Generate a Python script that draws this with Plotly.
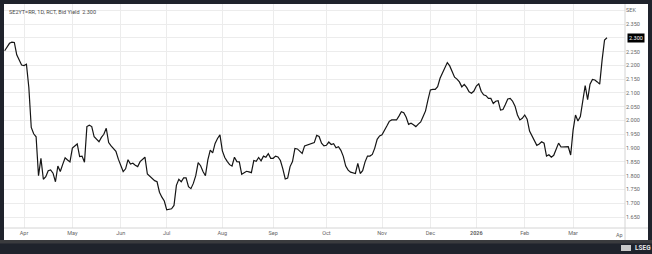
import plotly.graph_objects as go
import pandas as pd

# ---------------- data ----------------
holidays = ["2025-04-18", "2025-04-21", "2025-05-01", "2025-05-29", "2025-06-06",
            "2025-06-20", "2025-12-24", "2025-12-25", "2025-12-26", "2025-12-31",
            "2026-01-01", "2026-01-06"]

bid_yield = [
    2.253, 2.268, 2.280, 2.284, 2.283, 2.238, 2.219, 2.201, 2.199, 2.204,
    2.120, 1.975, 1.952, 1.941, 1.800, 1.863, 1.787, 1.796, 1.818, 1.821,
    1.809, 1.778, 1.835, 1.815, 1.841, 1.865, 1.857, 1.850, 1.900, 1.908,
    1.915, 1.869, 1.871, 1.849, 1.978, 1.983, 1.978, 1.941, 1.930, 1.923,
    1.939, 1.950, 1.972, 1.920, 1.908, 1.897, 1.888, 1.860, 1.838, 1.815,
    1.825, 1.858, 1.842, 1.845, 1.838, 1.833, 1.851, 1.860, 1.867, 1.806,
    1.798, 1.790, 1.782, 1.778, 1.740, 1.722, 1.708, 1.676, 1.679, 1.680,
    1.692, 1.765, 1.787, 1.778, 1.792, 1.792, 1.760, 1.753, 1.772, 1.800,
    1.847, 1.836, 1.815, 1.800, 1.857, 1.893, 1.883, 1.917, 1.935, 1.948,
    1.890, 1.866, 1.852, 1.840, 1.835, 1.867, 1.851, 1.850, 1.805, 1.811,
    1.816, 1.814, 1.811, 1.855, 1.852, 1.866, 1.854, 1.871, 1.867, 1.880,
    1.863, 1.863, 1.871, 1.868, 1.855, 1.825, 1.788, 1.791, 1.833, 1.851,
    1.899, 1.897, 1.890, 1.881, 1.908, 1.911, 1.914, 1.915, 1.920, 1.946,
    1.942, 1.918, 1.908, 1.910, 1.922, 1.913, 1.916, 1.901, 1.905, 1.892,
    1.870, 1.835, 1.820, 1.813, 1.811, 1.808, 1.845, 1.808, 1.818, 1.850,
    1.871, 1.871, 1.877, 1.900, 1.932, 1.944, 1.948, 1.962, 1.980, 1.997,
    2.002, 2.002, 2.002, 2.016, 2.032, 2.028, 2.012, 1.986, 1.990, 1.985,
    1.978, 1.987, 1.995, 2.015, 2.035, 2.075, 2.111, 2.113, 2.113, 2.123,
    2.153, 2.172, 2.190, 2.210, 2.198, 2.175, 2.157, 2.150, 2.140, 2.122,
    2.131, 2.120, 2.104, 2.099, 2.107, 2.125, 2.133, 2.106, 2.093, 2.090,
    2.080, 2.080, 2.062, 2.070, 2.072, 2.038, 2.040, 2.058, 2.078, 2.080,
    2.070, 2.052, 2.020, 2.002, 2.008, 2.020, 2.005, 1.962, 1.945, 1.932,
    1.910, 1.915, 1.923, 1.918, 1.871, 1.876, 1.867, 1.874, 1.895, 1.918,
    1.904, 1.904, 1.903, 1.905, 1.875, 1.965, 2.020, 1.998, 2.014, 2.080,
    2.127, 2.076, 2.132, 2.149, 2.147, 2.140, 2.132, 2.220, 2.292, 2.300,
]

month_labels = ["Apr", "May", "Jun", "Jul", "Aug", "Sep", "Oct", "Nov", "Dec",
                "<b>2026</b>", "Feb", "Mar"]
month_starts = ["2025-04", "2025-05", "2025-06", "2025-07", "2025-08", "2025-09",
                "2025-10", "2025-11", "2025-12", "2026-01", "2026-02", "2026-03"]

y_tickvals = [1.65, 1.70, 1.75, 1.80, 1.85, 1.90, 1.95, 2.00, 2.05, 2.10,
              2.15, 2.20, 2.25, 2.30, 2.35, 2.40]
# the 2.300 level is shown by the last-value badge instead of a plain tick label
y_ticktext = ["1.650", "1.700", "1.750", "1.800", "1.850", "1.900", "1.950", "2.000",
              "2.050", "2.100", "2.150", "2.200", "2.250", "", "2.350", "SEK"]

title_text = "SE2YT=RR, 1D, RCT, Bid Yield&nbsp;&nbsp;2.300"
last_value = "2.300"

# ---------------- calendar ----------------
cal = pd.bdate_range("2025-03-20", "2026-04-30", freq="C", holidays=holidays)
dates = cal[:len(bid_yield)]
cal_s = pd.Series(cal, index=cal)
firsts = cal_s.groupby(cal.strftime("%Y-%m")).min()
tick_dates = [firsts[m] for m in month_starts]

# ---------------- layout geometry ----------------
W, H = 652, 254
L, R, T, B = 4, 27, 4, 26
PW, PH = W - L - R, H - T - B


def fx(px):
    return (px - L) / PW


def fy(py):
    return (H - B - py) / PH


FONT = "Roboto"
fig = go.Figure()
fig.add_trace(go.Scatter(x=dates, y=bid_yield, mode="lines",
                         line=dict(color="#151515", width=1.2),
                         hoverinfo="x+y", showlegend=False))

shapes = [
    # white panel
    dict(type="rect", xref="paper", yref="paper", x0=fx(4), x1=fx(648), y0=fy(240), y1=fy(4),
         fillcolor="white", line=dict(width=0), layer="below"),
    # gray strip at bottom
    dict(type="rect", xref="paper", yref="paper", x0=fx(0), x1=fx(652), y0=fy(243.5), y1=fy(240),
         fillcolor="#3a3b3e", line=dict(width=0), layer="below"),
    # right border of plot
    dict(type="line", xref="paper", yref="paper", x0=1, x1=1, y0=fy(240), y1=fy(4),
         line=dict(color="#d4d4d4", width=1)),
    # bottom border line
    dict(type="line", xref="paper", yref="paper", x0=fx(4), x1=fx(648), y0=0, y1=0,
         line=dict(color="#d4d4d4", width=1)),
    # logo glyph
    dict(type="rect", xref="paper", yref="paper", x0=fx(621), x1=fx(631), y0=fy(251), y1=fy(245),
         fillcolor="#c9c9c9", line=dict(width=0)),
]

annotations = [
    dict(text=title_text, xref="paper", yref="paper", x=fx(7), y=fy(11.5),
         xanchor="left", yanchor="middle", showarrow=False,
         font=dict(family=FONT, size=5.5, color="#4a4a4a")),
    dict(text=last_value, xref="paper", yref="y", x=fx(627), y=2.300,
         xanchor="left", yanchor="middle", showarrow=False, bgcolor="#000000",
         borderpad=1, font=dict(family=FONT, size=5.5, color="#ffffff")),
    dict(text="Ap", xref="paper", yref="paper", x=fx(625), y=fy(235),
         xanchor="right", yanchor="middle", showarrow=False,
         font=dict(family=FONT, size=5.5, color="#666666")),
    dict(text="<b>LSEG</b>", xref="paper", yref="paper", x=fx(633), y=fy(248),
         xanchor="left", yanchor="middle", showarrow=False,
         font=dict(family=FONT, size=6.5, color="#e8e8e8")),
]

fig.update_layout(
    width=W, height=H,
    margin=dict(l=L, r=R, t=T, b=B, pad=0),
    paper_bgcolor="#1f232c",
    plot_bgcolor="white",
    shapes=shapes,
    annotations=annotations,
    showlegend=False,
    xaxis=dict(
        type="date",
        range=["2025-03-19 17:30", "2026-03-31 11:00"],
        rangebreaks=[dict(bounds=["sat", "mon"]), dict(values=holidays)],
        tickmode="array", tickvals=tick_dates, ticktext=month_labels,
        showgrid=True, gridcolor="#ececec", gridwidth=1,
        showline=False, zeroline=False, ticks="",
        tickfont=dict(family=FONT, size=5.5, color="#666666"),
        fixedrange=True,
    ),
    yaxis=dict(
        side="right",
        range=[1.6103, 2.4225],
        tickmode="array", tickvals=y_tickvals, ticktext=y_ticktext,
        showgrid=True, gridcolor="#ececec", gridwidth=1,
        showline=False, zeroline=False, ticks="",
        tickfont=dict(family=FONT, size=5.5, color="#666666"),
        fixedrange=True,
    ),
)

fig.write_html("out.html")
